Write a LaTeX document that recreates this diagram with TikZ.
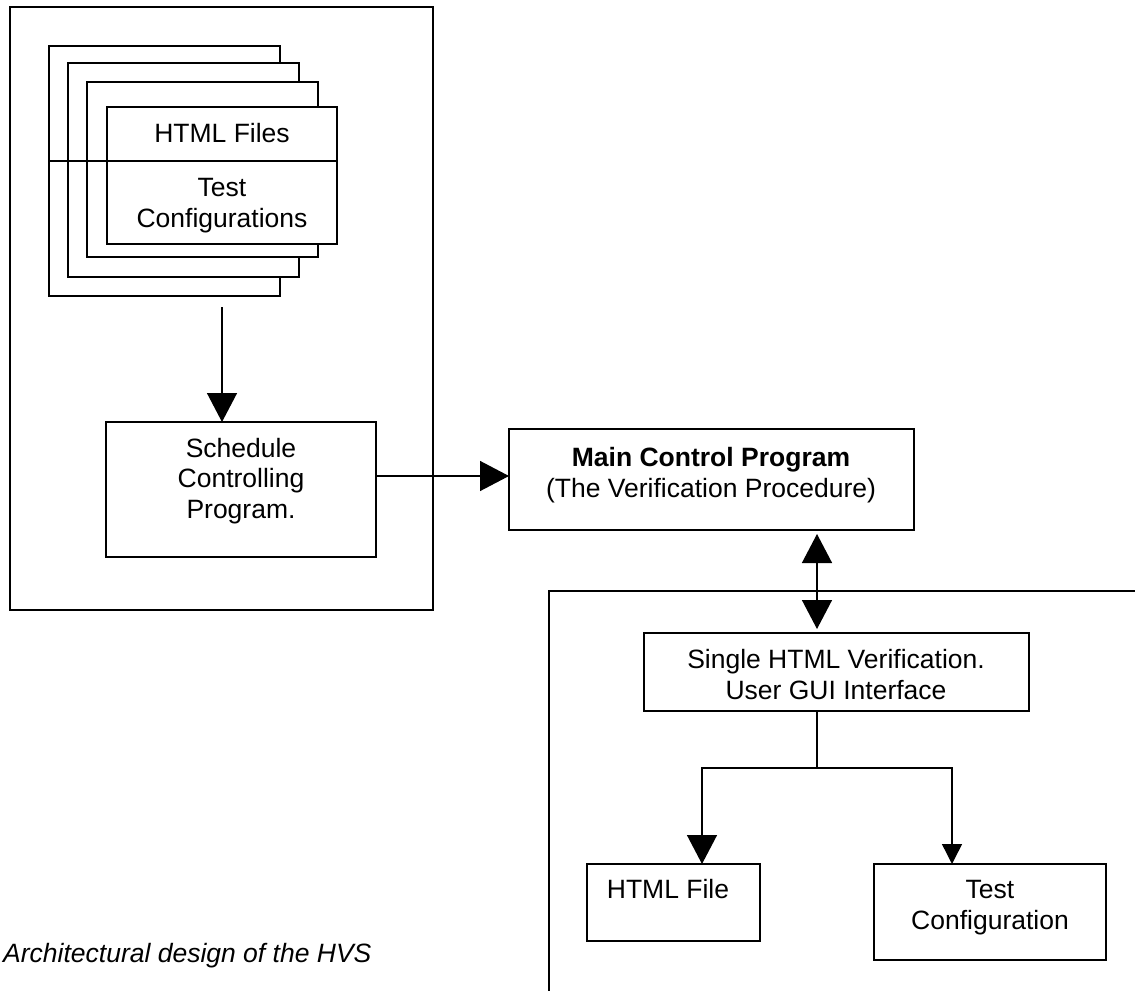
\documentclass[tikz,border=0pt]{standalone}
\usepackage{fontspec}
\setmainfont{Liberation Sans}
\usetikzlibrary{arrows.meta}
\tikzset{
  box/.style={draw, line width=1.4pt, fill=white, inner sep=0pt, outer sep=0pt},
  lbl/.style={font=\fontsize{26.5}{30.5}\selectfont, align=center, anchor=base, inner sep=0pt},
  conn/.style={line width=1.4pt},
  bigtip/.style={-{Triangle[length=29pt,width=30pt]}},
  smalltip/.style={-{Triangle[length=20pt,width=20pt]}},
  dbltip/.style={{Triangle[length=29pt,width=30pt]}-{Triangle[length=29pt,width=30pt]}}
}
\begin{document}
\begin{tikzpicture}[x=1pt,y=-1pt]
\useasboundingbox (0,0) rectangle (1135,991);
% left group
\node[box, minimum width=423pt, minimum height=603pt] (outer) at (221.5,308.5) {};
\node[box, minimum width=231pt, minimum height=250pt] (r1) at (164.5,171) {};
\node[box, minimum width=231pt, minimum height=214pt] (r2) at (183.5,170) {};
\node[box, minimum width=231pt, minimum height=175pt] (r3) at (202.5,169.5) {};
\node[box, minimum width=230pt, minimum height=137pt] (r4) at (222,175.5) {};
\coordinate (sep) at (0,161);
\draw[conn] (r1.west |- sep) -- (r4.east |- sep);
\node[lbl] (t1) at (222,142) {HTML Files};
\node[lbl] (t2) at (222,227) {Test\\Configurations};
\coordinate (arrstart) at (222,307);
\node[box, minimum width=270pt, minimum height=135pt] (sched) at (241,489.5) {};
\node[lbl] (t3) at (241,518) {Schedule\\Controlling\\Program.};
\draw[conn, bigtip] (arrstart) -- (arrstart |- sched.north);
% main
\node[box, minimum width=405pt, minimum height=101pt] (main) at (711.5,479.5) {};
\node[lbl] (t4) at (711,497) {\textbf{Main Control Program}\\(The Verification Procedure)};
\coordinate (hline) at (0,476);
\draw[conn, bigtip] (sched.east |- hline) -- (main.west |- hline);
% right-bottom group
\coordinate (brright) at (1135,591);
\coordinate (brtop) at (549,591);
\coordinate (brbot) at (549,991);
\draw[conn] (brright) -- (brtop) -- (brbot);
\node[box, minimum width=385pt, minimum height=78pt] (single) at (836.5,672) {};
\node[lbl] (t5) at (836,699) {Single HTML Verification.\\User GUI Interface};
\coordinate (dbl) at (817,0);
\draw[conn, dbltip, shorten <=4pt, shorten >=4pt] (main.south -| dbl) -- (single.north -| dbl);
\node[box, minimum width=173pt, minimum height=77pt] (html) at (673.5,902.5) {};
\node[lbl] (t6) at (668,898) {HTML File};
\node[box, minimum width=232pt, minimum height=96pt] (test) at (990,912) {};
\node[lbl] (t7) at (990,929) {Test\\Configuration};
\coordinate (split) at (817,768);
\coordinate (hx) at (702,0);
\coordinate (tx) at (952,0);
\draw[conn] (single.south -| dbl) -- (split);
\draw[conn, bigtip] (split) -- (split -| hx) -- (hx |- html.north);
\draw[conn, smalltip] (split) -- (split -| tx) -- (tx |- test.north);
% caption
\node[font=\fontsize{26.5}{30.5}\selectfont\itshape, anchor=base west, inner sep=0pt] (cap) at (3,962) {Architectural design of the HVS};
\end{tikzpicture}
\end{document}
